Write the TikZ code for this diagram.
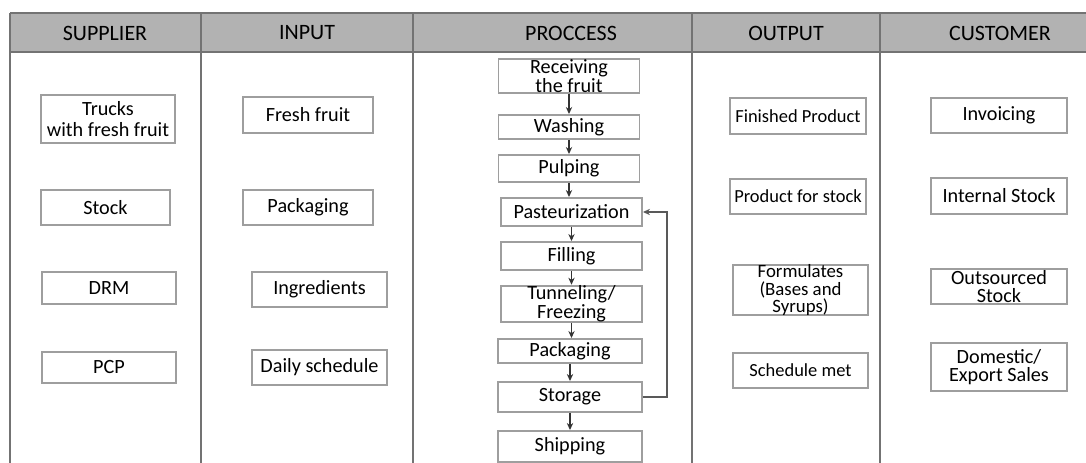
\documentclass[tikz,border=0pt]{standalone}
\usepackage{fontspec}
\setmainfont{Carlito}
\usetikzlibrary{arrows.meta}

\begin{document}
\begin{tikzpicture}[x=0.02cm,y=-0.02cm,
  box/.style={draw=black!38,line width=1.1pt,fill=white,inner sep=0pt,
    align=center,font=\fontsize{11.5}{11}\selectfont},
  small/.style={font=\fontsize{10.5}{9}\selectfont},
  head/.style={font=\fontsize{12.5}{14}\selectfont},
  flow/.style={-{Stealth[length=4pt,width=3.6pt]},black!80,line width=0.8pt}]
  \useasboundingbox (0,0) rectangle (1086,463);
  % header band and column lines
  \fill[black!30](10,13) rectangle (1086,52);
  \draw[black!55,line width=0.9pt](10,13)--(1086,13) (10,52)--(1086,52);
  \foreach \x in {10,201,413,692,880}
    \draw[black!55,line width=1pt](\x,13)--(\x,463);
  \node[head](hsup) at (105,33){SUPPLIER};
  \node[head](hinp) at (307,33){INPUT};
  \node[head](hpro) at (571,33){PROCCESS};
  \node[head](hout) at (786,33){OUTPUT};
  \node[head](hcus) at (1000,33){CUSTOMER};
  % supplier
  \node[box,minimum width=2.68cm,minimum height=0.96cm,
    font=\fontsize{11.5}{12.3}\selectfont](trucks) at (108,119){Trucks\\with fresh fruit};
  \node[box,minimum width=2.58cm,minimum height=0.70cm](stock) at (105.5,207.5){Stock};
  \node[box,minimum width=2.68cm,minimum height=0.64cm](drm) at (109,288){DRM};
  \node[box,minimum width=2.68cm,minimum height=0.62cm](pcp) at (109,367.5){PCP};
  % input
  \node[box,minimum width=2.60cm,minimum height=0.72cm](fresh) at (308,115){Fresh fruit};
  \node[box,minimum width=2.60cm,minimum height=0.70cm](pack) at (308,207.5){Packaging};
  \node[box,minimum width=2.70cm,minimum height=0.70cm](ingr) at (319.5,289.5){Ingredients};
  \node[box,minimum width=2.70cm,minimum height=0.70cm](daily) at (319.5,367.5){Daily schedule};
  % process
  \node[box,minimum width=2.82cm,minimum height=0.64cm,
    font=\fontsize{11.5}{9}\selectfont](recv) at (569,76){Receiving\\the fruit};
  \node[box,minimum width=2.82cm,minimum height=0.48cm](wash) at (569,127){Washing};
  \node[box,minimum width=2.82cm,minimum height=0.54cm](pulp) at (569,168.5){Pulping};
  \node[box,minimum width=2.82cm,minimum height=0.56cm](past) at (571.5,212){Pasteurization};
  \node[box,minimum width=2.82cm,minimum height=0.56cm](fill) at (571.5,256){Filling};
  \node[box,minimum width=2.82cm,minimum height=0.64cm,
    font=\fontsize{11.5}{9}\selectfont](tunn) at (571.5,304){Tunneling/\\Freezing};
  \node[box,minimum width=2.88cm,minimum height=0.48cm](pkg) at (570,351){Packaging};
  \node[box,minimum width=2.88cm,minimum height=0.60cm](stor) at (570,397){Storage};
  \node[box,minimum width=2.88cm,minimum height=0.62cm](ship) at (570,446.5){Shipping};
  \draw[flow](recv.south)--(recv.south |- wash.north);
  \draw[flow](wash.south)--(wash.south |- pulp.north);
  \draw[flow](pulp.south)--(pulp.south |- past.north);
  \draw[flow](past.south)--(past.south |- fill.north);
  \draw[flow](fill.south)--(fill.south |- tunn.north);
  \draw[flow](tunn.south)--(tunn.south |- pkg.north);
  \draw[flow](pkg.south)--(pkg.south |- stor.north);
  \draw[flow](stor.south)--(stor.south |- ship.north);
  \draw[flow,black!65](stor.east)--++(24,0)|-(past.east);
  % output
  \node[box,small,minimum width=2.72cm,minimum height=0.72cm](fin) at (798,116){Finished Product};
  \node[box,small,minimum width=2.72cm,minimum height=0.70cm](pstock) at (798,196.5){Product for stock};
  \node[box,minimum width=2.70cm,minimum height=0.96cm,
    font=\fontsize{10.7}{9.7}\selectfont](form) at (800.5,290){Formulates\\(Bases and\\Syrups)};
  \node[box,small,minimum width=2.70cm,minimum height=0.70cm](sched) at (800.5,370.5){Schedule met};
  % customer
  \node[box,minimum width=2.72cm,minimum height=0.70cm](inv) at (999,115.5){Invoicing};
  \node[box,minimum width=2.72cm,minimum height=0.72cm](intst) at (999,196){Internal Stock};
  \node[box,minimum width=2.72cm,minimum height=0.70cm,
    font=\fontsize{11.5}{10.6}\selectfont](outst) at (999,286.5){Outsourced\\Stock};
  \node[box,minimum width=2.72cm,minimum height=0.96cm,
    font=\fontsize{11.5}{10.4}\selectfont](dom) at (999,367){Domestic/\\Export Sales};
\end{tikzpicture}
\end{document}
